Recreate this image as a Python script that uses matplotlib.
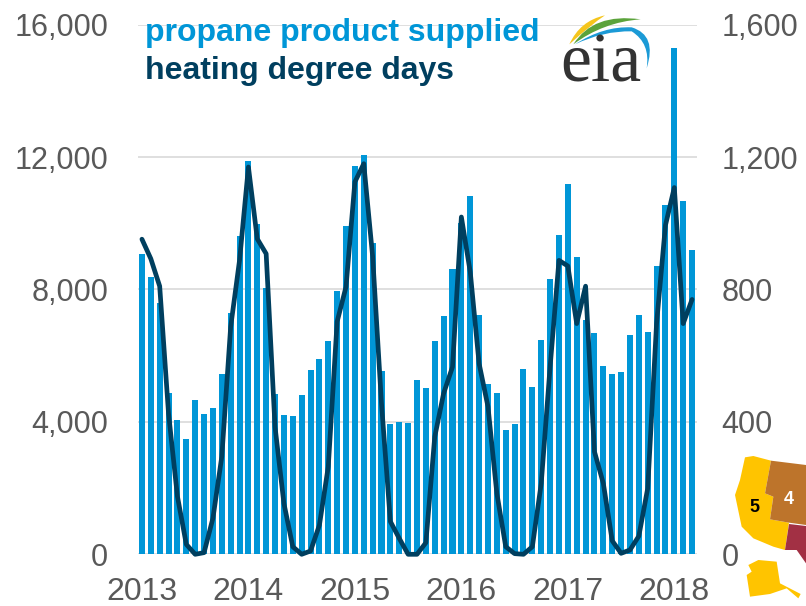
import matplotlib
matplotlib.use("Agg")
import matplotlib.pyplot as plt
from matplotlib.patches import PathPatch, Polygon
from matplotlib.path import Path

plt.rcParams['font.family'] = ['Liberation Sans', 'DejaVu Sans']

years = ['2013', '2014', '2015', '2016', '2017', '2018']
left_ticks = [0, 4000, 8000, 12000, 16000]
right_ticks = [0, 400, 800, 1200, 1600]
propane = [9060, 8390, 7600, 4880, 4055, 3490, 4670, 4225, 4405, 5440, 7300, 9610,
           11870, 9990, 8060, 4840, 4205, 4165, 4800, 5565, 5895, 6440, 7950, 9920,
           11730, 12070, 9405, 5530, 3935, 3995, 3975, 5280, 5020, 6440, 7190, 8610,
           10000, 10830, 7240, 5160, 4880, 3750, 3935, 5600, 5040, 6460, 8330, 9650,
           11190, 8995, 7070, 6680, 5695, 5460, 5500, 6620, 7240, 6720, 8710, 10540,
           15300, 10670, 9195]
hdd = [952, 893, 810, 425, 175, 30, 0, 5, 109, 295, 687, 888,
       1170, 953, 908, 385, 154, 23, 0, 10, 88, 265, 703, 808,
       1125, 1180, 900, 455, 99, 48, 0, 0, 35, 355, 486, 566,
       1019, 853, 576, 446, 184, 23, 2, 0, 23, 214, 566, 888,
       871, 697, 810, 310, 214, 41, 3, 13, 55, 199, 697, 994,
       1108, 697, 770]

W, H = 806, 606
BLUE, NAVY, GREY, GRID = '#0096d7', '#003f5f', '#595959', '#d9d9d9'

fig = plt.figure(figsize=(W / 100, H / 100), dpi=100, facecolor='white')
ax = fig.add_axes([137.5 / W, 1 - 554.3 / H, 559 / W, 529.6 / H])
months = list(range(len(propane)))
ax.bar(months, propane, width=0.68, color=BLUE, zorder=2)
ax.set_xlim(-0.5, len(propane) - 0.5)
ax.set_ylim(0, 16000)
ax.set_yticks(left_ticks)
ax.set_yticklabels([f'{v:,}' for v in left_ticks])
ax.set_xticks(months[::12])
ax.set_xticklabels(years)
ax.tick_params(axis='y', length=0, labelsize=22, labelcolor=GREY, pad=21)
ax.tick_params(axis='x', length=0, labelsize=23, labelcolor=GREY, pad=16)
ax.grid(axis='y', color=GRID, lw=1.2, zorder=1)
ax.set_axisbelow(True)
for s in ax.spines.values():
    s.set_visible(False)

ax2 = ax.twinx()
ax2.plot(months, hdd, color=NAVY, lw=3.4, solid_joinstyle='round', solid_capstyle='round', zorder=5, clip_on=False)
ax2.set_ylim(0, 1600)
ax2.set_yticks(right_ticks)
ax2.set_yticklabels([f'{v:,}' for v in right_ticks])
ax2.tick_params(axis='y', length=0, labelsize=22, labelcolor=GREY, pad=18)
for s in ax2.spines.values():
    s.set_visible(False)

# overlay in pixel coordinates for the legend text, logo and map inset
ov = fig.add_axes([0, 0, 1, 1], facecolor='none')
ov.set_xlim(0, W)
ov.set_ylim(H, 0)
ov.axis('off')
ov.text(145, 32.5, 'propane product supplied', color=BLUE, fontsize=23, fontweight='bold', va='center')
ov.text(145, 70.5, 'heating degree days', color=NAVY, fontsize=23, fontweight='bold', va='center')

def zl(pts):
    return [(540 + x / 3, y / 3) for x, y in pts]

def zm(pts):
    return [(690 + x / 3, 440 + y / 3) for x, y in pts]

def swoosh(pts, color):
    codes = [Path.MOVETO] + [Path.CURVE3] * (len(pts) - 2) + [Path.CLOSEPOLY]
    ov.add_patch(PathPatch(Path(zl(pts[:-1]) + zl(pts[:1]), codes), fc=color, ec='none', zorder=6))

swoosh([(88, 133), (120, 62), (195, 46), (155, 72), (88, 133), (0, 0)], '#f5c51c')
swoosh([(100, 133), (160, 38), (302, 58), (190, 66), (100, 133), (0, 0)], '#5ba33b')
swoosh([(105, 133), (190, 78), (275, 82), (352, 105), (320, 205), (332, 130), (275, 94), (190, 92), (105, 133), (0, 0)], '#1b9ad6')
ov.text(540 + 183 / 3, 82, 'eia', family='Liberation Serif', fontsize=50, color='#333333', ha='center', va='baseline', zorder=6)

YEL, BRN, RED = '#ffc400', '#bd742b', '#a23044'
west = [(165, 52), (190, 48), (243, 62), (225, 160), (250, 170), (240, 238), (297, 248), (285, 330), (250, 320),
        (190, 295), (155, 260), (135, 165), (150, 120)]
rockies = [(243, 62), (348, 75), (348, 255), (297, 248), (240, 238), (250, 170), (225, 160)]
south = [(297, 252), (348, 258), (348, 370), (320, 330), (285, 330)]
alaska = [(175, 375), (205, 360), (260, 365), (270, 430), (332, 462), (325, 475), (290, 445), (240, 462), (180, 470),
          (170, 405), (185, 395)]
for pts, c in [(west, YEL), (rockies, BRN), (south, RED), (alaska, YEL)]:
    ov.add_patch(Polygon(zm(pts), closed=True, fc=c, ec='none', zorder=3))
ov.text(690 + 192 / 3, 440 + 203 / 3, '5', color='black', fontsize=13, fontweight='bold', ha='center', va='center', zorder=4)
ov.text(690 + 297 / 3, 440 + 178 / 3, '4', color='white', fontsize=13, fontweight='bold', ha='center', va='center', zorder=4)

fig.savefig('out.png', dpi=100)
